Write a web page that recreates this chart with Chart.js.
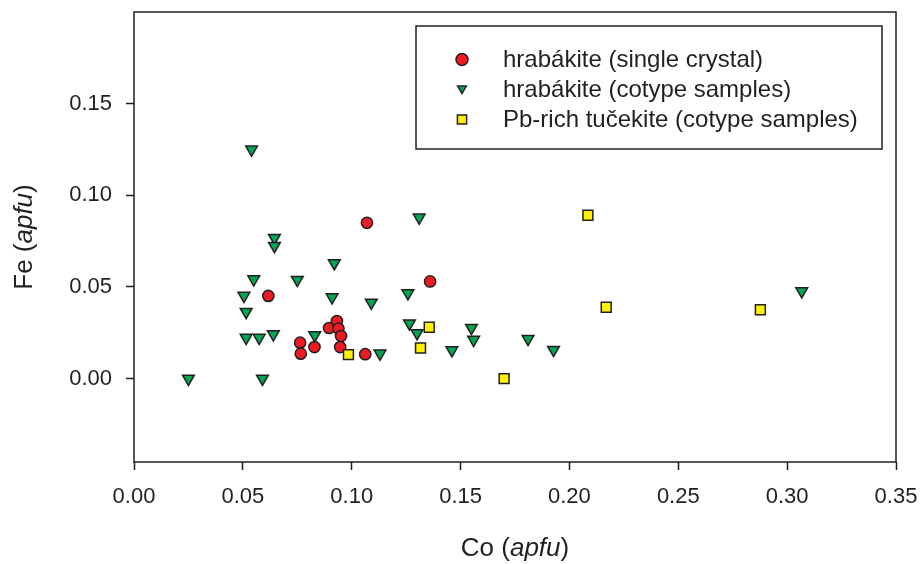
<!DOCTYPE html>
<html>
<head>
<meta charset="utf-8">
<script src="https://cdn.jsdelivr.net/npm/chart.js@4.4.1/dist/chart.umd.min.js"></script>
<style>
  html, body { margin: 0; padding: 0; background: #ffffff; }
  #wrap { width: 920px; height: 564px; position: relative; }
</style>
</head>
<body>
<div id="wrap"><canvas id="chart"></canvas></div>
<script>
// Veriler: Co ve Fe (apfu)
const singleCo = [0.107, 0.136, 0.0617, 0.0763, 0.0766, 0.0829, 0.0896, 0.0932, 0.0939, 0.0951, 0.0947, 0.1062];
const singleFe = [0.085, 0.053, 0.0451, 0.0196, 0.0136, 0.0172, 0.0276, 0.0314, 0.0273, 0.0232, 0.0172, 0.0133];

const cotypeCo = [0.054, 0.0645, 0.0645, 0.092, 0.055, 0.075, 0.0505, 0.091, 0.109, 0.0515, 0.0515, 0.0575, 0.064, 0.083,
                  0.113, 0.025, 0.059, 0.131, 0.1258, 0.1265, 0.130, 0.155, 0.156, 0.146, 0.181, 0.1927, 0.3067];
const cotypeFe = [0.125, 0.0768, 0.0724, 0.063, 0.0542, 0.0539, 0.0452, 0.0444, 0.0415, 0.0364, 0.0223, 0.0223, 0.0242, 0.0237,
                  0.0137, 0.0, 0.0, 0.0879, 0.0466, 0.0301, 0.0248, 0.0277, 0.0212, 0.0155, 0.0217, 0.0157, 0.0477];

const tucekCo = [0.2085, 0.2169, 0.1356, 0.1316, 0.170, 0.2877, 0.0985];
const tucekFe = [0.0891, 0.0389, 0.0280, 0.0167, 0.0, 0.0376, 0.0131];

const seriesLabels = ['hrabákite (single crystal)', 'hrabákite (cotype samples)', 'Pb-rich tučekite (cotype samples)'];
const xTicks = [0, 0.05, 0.10, 0.15, 0.20, 0.25, 0.30, 0.35];
const yTicks = [0, 0.05, 0.10, 0.15];

const ink = '#231f20';
const fontFamily = '"Liberation Sans", Arial, Helvetica, sans-serif';
Chart.defaults.font.family = fontFamily;
Chart.defaults.color = ink;

const toPoints = (xs, ys) => xs.map((x, i) => ({ x: x, y: ys[i] }));

// Eksen başlıkları (italik "apfu" ile)
function drawTitle(ctx, parts, cx, cy, rotate) {
    ctx.save();
    ctx.translate(cx, cy);
    if (rotate) ctx.rotate(-Math.PI / 2);
    ctx.textBaseline = 'middle';
    ctx.fillStyle = ink;
    let total = 0;
    parts.forEach(p => { ctx.font = (p.italic ? 'italic ' : '') + '26px ' + fontFamily; total += ctx.measureText(p.text).width; });
    let x = -total / 2;
    parts.forEach(p => {
        ctx.font = (p.italic ? 'italic ' : '') + '26px ' + fontFamily;
        ctx.textAlign = 'left';
        ctx.fillText(p.text, x, 0);
        x += ctx.measureText(p.text).width;
    });
    ctx.restore();
}

const framePlugin = {
    id: 'framePlugin',
    afterDraw(chart) {
        const { ctx, chartArea: a } = chart;
        ctx.save();
        ctx.strokeStyle = ink;
        ctx.lineWidth = 1.5;
        ctx.strokeRect(a.left, a.top, a.right - a.left, a.bottom - a.top);

        drawTitle(ctx, [{ text: 'Co (' }, { text: 'apfu', italic: true }, { text: ')' }], (a.left + a.right) / 2, 549, false);
        drawTitle(ctx, [{ text: 'Fe (' }, { text: 'apfu', italic: true }, { text: ')' }], 25, (a.top + a.bottom) / 2, true);

        // Lejant kutusu
        ctx.lineWidth = 1.5;
        ctx.strokeRect(416, 26, 466, 123);
        const legendRadius = [6, 5, 6.5];
        chart.data.datasets.forEach((ds, i) => {
            const y = 59.5 + i * 30;
            ctx.fillStyle = ds.backgroundColor;
            ctx.strokeStyle = ds.borderColor;
            ctx.lineWidth = ds.borderWidth;
            Chart.helpers.drawPoint(ctx, {
                pointStyle: ds.pointStyle, rotation: ds.rotation || 0,
                radius: legendRadius[i], borderWidth: ds.borderWidth
            }, 462, i === 1 ? y - 1 : y);
            ctx.fillStyle = ink;
            ctx.font = '24px ' + fontFamily;
            ctx.textAlign = 'left';
            ctx.textBaseline = 'middle';
            ctx.fillText(ds.label, 503, y + 1);
        });
        ctx.restore();
    }
};

const tickFont = { size: 22, family: fontFamily };

new Chart(document.getElementById('chart').getContext('2d'), {
    type: 'scatter',
    data: {
        datasets: [
            {
                label: seriesLabels[0], data: toPoints(singleCo, singleFe), order: 3,
                pointStyle: 'circle', pointRadius: 5.6, pointHoverRadius: 5.6,
                backgroundColor: '#ed1c24', borderColor: ink, borderWidth: 1.5
            },
            {
                label: seriesLabels[1], data: toPoints(cotypeCo, cotypeFe), order: 2,
                pointStyle: 'triangle', rotation: 180, pointRotation: 180, pointRadius: 6.8, pointHoverRadius: 6.8,
                backgroundColor: '#00a651', borderColor: ink, borderWidth: 1.5
            },
            {
                label: seriesLabels[2], data: toPoints(tucekCo, tucekFe), order: 1,
                pointStyle: 'rect', pointRadius: 7, pointHoverRadius: 7,
                backgroundColor: '#fff200', borderColor: ink, borderWidth: 1.5
            }
        ]
    },
    options: {
        responsive: true, maintainAspectRatio: false, animation: false,
        layout: { padding: { left: 0, top: 12, right: 24, bottom: 0 } },
        plugins: { legend: { display: false }, tooltip: { enabled: false } },
        scales: {
            x: {
                type: 'linear', min: 0, max: 0.35,
                afterBuildTicks: s => { s.ticks = xTicks.map(v => ({ value: v })); },
                afterFit: s => { s.height = 102; s.paddingLeft = 0; s.paddingRight = 0; },
                border: { display: false },
                grid: { drawOnChartArea: false, drawTicks: true, tickLength: 8, tickWidth: 1.5, tickColor: ink },
                ticks: { font: tickFont, color: ink, padding: 14, maxRotation: 0, autoSkip: false,
                         callback: v => v.toFixed(2) }
            },
            y: {
                type: 'linear', min: -0.0455, max: 0.2,
                afterBuildTicks: s => { s.ticks = yTicks.map(v => ({ value: v })); },
                afterFit: s => { s.width = 134; s.paddingTop = 0; s.paddingBottom = 0; },
                border: { display: false },
                grid: { drawOnChartArea: false, drawTicks: true, tickLength: 8, tickWidth: 1.5, tickColor: ink },
                ticks: { font: tickFont, color: ink, padding: 14, callback: v => v.toFixed(2) }
            }
        }
    },
    plugins: [framePlugin]
});
</script>
</body>
</html>
